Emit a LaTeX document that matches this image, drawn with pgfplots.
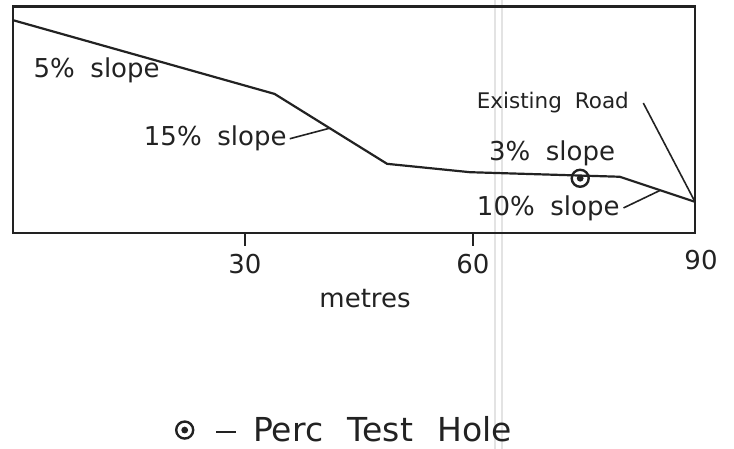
\documentclass[border=0pt]{standalone}
\usepackage{fontspec}
\setmainfont{DejaVu Sans}
\usepackage{pgfplots}
\pgfplotsset{compat=1.18}
\definecolor{ink}{HTML}{222222}
\pgfdeclareplotmark{perc}{%
  \pgfpathcircle{\pgfpointorigin}{\pgfplotmarksize}\pgfusepathqstroke
  \pgfpathcircle{\pgfpointorigin}{0.40\pgfplotmarksize}\pgfusepathqfill}
\newcommand\bigf{\fontsize{26}{30}\selectfont}
\newcommand\smf{\fontsize{21.5}{25}\selectfont}
\newcommand\legf{\fontsize{33}{40}\selectfont}
\newcommand\gap{\hspace{0.6em}}
\begin{document}
\begin{tikzpicture}
\useasboundingbox (-13pt,-216pt) rectangle (721pt,233pt);
\draw[gray!22, line width=1.6pt] (482pt,-216pt) -- (482pt,233pt);
\draw[gray!22, line width=1.6pt] (489pt,-216pt) -- (489pt,233pt);
\begin{axis}[
  at={(0,0)}, anchor=south west,
  scale only axis, width=682pt, height=226.5pt,
  xmin=-0.5, xmax=89.2, ymin=0, ymax=29.8,
  axis line style={ink, line width=2.2pt},
  xtick={30,60}, ytick=\empty,
  tick pos=left,
  tick align=outside,
  major tick length=13pt,
  every tick/.style={ink, line width=1.6pt},
  /pgf/number format/assume math mode=true,
  xticklabel style={font=\bigf, text=ink, yshift=-5pt},
  extra x ticks={89.2}, extra x tick labels={90},
  extra x tick style={major tick length=0pt, xticklabel style={xshift=6pt, yshift=-9pt}},
  clip=false,
  legend style={at={(0.239,-0.870)}, anchor=west, draw=none, fill=none,
    font=\legf, text=ink, inner sep=0pt},
  legend cell align=left,
]
\addplot[ink, line width=2.2pt, forget plot] coordinates {
  (-0.5,28.0) (33.9,18.3) (48.7,9.1) (59.6,8.0) (79.3,7.4) (89.2,4.1)};
\addplot[only marks, mark=perc, mark size=8.5pt, ink, mark options={line width=2.4pt}] coordinates {(74.1,7.2)};
\addlegendentry{\hspace{21pt}\rule[9pt]{20pt}{2.2pt}\hspace{17pt}Perc\hspace{0.75em}Test\hspace{0.75em}Hole}

\node[font=\bigf, text=ink] at (axis cs:10.5,21.4) {5\%\gap slope};
\node[font=\bigf, text=ink] at (axis cs:26.1,12.5) {15\%\gap slope};
\draw[ink, line width=1.6pt] (axis cs:35.9,12.4) -- (axis cs:41.2,13.8);
\node[font=\smf, text=ink] at (axis cs:70.5,17.2) {Existing\gap Road};
\draw[ink, line width=1.6pt] (axis cs:82.4,17.1) -- (axis cs:89.2,4.1);
\node[font=\bigf, text=ink] at (axis cs:70.4,10.5) {3\%\gap slope};
\node[font=\bigf, text=ink] at (axis cs:69.9,3.3) {10\%\gap slope};
\draw[ink, line width=1.6pt] (axis cs:79.8,3.3) -- (axis cs:84.6,5.6);
\node[font=\bigf, text=ink] at (axis cs:45.8,0) [yshift=-66pt] {metres};
\end{axis}
\end{tikzpicture}
\end{document}
